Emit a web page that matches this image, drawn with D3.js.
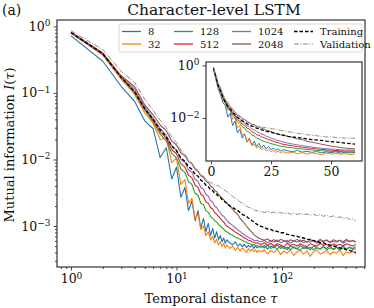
<!DOCTYPE html>
<html>
<head>
<meta charset="utf-8">
<script src="https://cdn.jsdelivr.net/npm/d3@7"></script>
<style>
  body { margin: 0; background: #fff; }
  text { font-family: "DejaVu Serif", serif; fill: #111; }
</style>
</head>
<body>
<svg id="chart" width="374" height="308"></svg>
<script>
// temporal distances where I(tau) is plotted
const taus = [1, 2, 3, 4, 5, 6, 7, 8, 9, 10, 11, 12, 13, 14, 15, 16, 17, 18, 19, 20,
  21, 22, 23, 24, 25, 26, 27, 28, 29, 30,
  32, 34, 36, 38, 40, 42, 44, 46, 48, 50, 52, 54, 56, 58, 60,
  64, 68, 73, 78, 84, 90, 97, 104, 112, 120, 129, 139, 149, 160, 172, 185, 199, 214, 230, 247,
  265, 285, 306, 329, 353, 380, 408, 438, 470, 500];

const sizes = ["8", "32", "128", "512", "1024", "2048"];

const mi8 = [0.72, 0.30, 0.125, 0.075, 0.038, 0.029, 0.0107, 0.015, 0.0051, 0.0077, 0.0027, 0.0038, 0.0017, 0.0024, 0.0012, 0.0017, 0.00092, 0.0013, 0.00082, 0.0011,
  0.00072, 0.00092, 0.00066, 0.00082, 0.00062, 0.00072, 0.00058, 0.00066, 0.00055, 0.00062,
  0.00056, 0.00052, 0.00058, 0.0005, 0.00054, 0.00049, 0.00053, 0.00047, 0.00051, 0.00048, 0.00052, 0.00046, 0.0005, 0.00047, 0.00049,
  0.00048, 0.00051, 0.00045, 0.0005, 0.00047, 0.00052, 0.00046, 0.00049, 0.00044, 0.0005, 0.00047, 0.00045, 0.00051, 0.00046, 0.00048,
  0.00044, 0.0005, 0.00047, 0.00045, 0.00049, 0.00046, 0.00051, 0.00044, 0.00048, 0.00046, 0.0005, 0.00045, 0.00048, 0.00046, 0.00049];

const mi32 = [0.79, 0.37, 0.16, 0.095, 0.05, 0.035, 0.02, 0.021, 0.009, 0.0105, 0.0042, 0.005, 0.0022, 0.0026, 0.0013, 0.0015, 0.00088, 0.001, 0.00072, 0.00082,
  0.00062, 0.0007, 0.00056, 0.00063, 0.00052, 0.00058, 0.00049, 0.00055, 0.00047, 0.00052,
  0.00046, 0.0005, 0.00043, 0.00048, 0.00042, 0.00047, 0.00044, 0.0004, 0.00046, 0.00042, 0.00045, 0.00041, 0.00044, 0.0004, 0.00043,
  0.00041, 0.00044, 0.00038, 0.00043, 0.0004, 0.00045, 0.00037, 0.00042, 0.00039, 0.00044, 0.00036, 0.00041, 0.00043, 0.00038, 0.00042,
  0.00035, 0.00041, 0.00044, 0.00038, 0.0004, 0.00043, 0.00037, 0.00041, 0.00039, 0.00044, 0.00036, 0.00041, 0.00039, 0.00042, 0.00038];

const mi128 = [0.80, 0.38, 0.17, 0.10, 0.055, 0.037, 0.024, 0.019, 0.0125, 0.0105, 0.0072, 0.0064, 0.0046, 0.0042, 0.0031, 0.0029, 0.0022, 0.0021, 0.0017, 0.0016,
  0.0014, 0.0013, 0.0012, 0.00115, 0.00105, 0.001, 0.00094, 0.0009, 0.00084, 0.00082,
  0.00076, 0.00073, 0.00068, 0.00066, 0.00063, 0.00061, 0.00058, 0.00057, 0.00055, 0.00054, 0.00052, 0.00053, 0.0005, 0.00051, 0.00049,
  0.0005, 0.00047, 0.00051, 0.00046, 0.00049, 0.00045, 0.0005, 0.00046, 0.00048, 0.00044, 0.00049, 0.00046, 0.00043, 0.00049, 0.00045,
  0.00048, 0.00044, 0.00047, 0.00045, 0.00049, 0.00044, 0.00047, 0.00045, 0.00048, 0.00043, 0.00047, 0.00045, 0.00048, 0.00044, 0.00046];

const mi512 = [0.80, 0.38, 0.17, 0.105, 0.058, 0.039, 0.026, 0.021, 0.014, 0.0122, 0.0086, 0.0077, 0.0058, 0.0053, 0.0041, 0.0038, 0.003, 0.0028, 0.0023, 0.0022,
  0.0019, 0.0018, 0.0016, 0.0015, 0.0014, 0.0013, 0.0012, 0.00115, 0.00106, 0.001,
  0.00093, 0.00087, 0.00081, 0.00077, 0.00073, 0.0007, 0.00066, 0.00064, 0.00061, 0.0006, 0.00058, 0.00057, 0.00055, 0.00056, 0.00054,
  0.00053, 0.00056, 0.00051, 0.00055, 0.0005, 0.00054, 0.00052, 0.00049, 0.00055, 0.00051, 0.00053, 0.0005, 0.00054, 0.00051, 0.00049,
  0.00054, 0.00052, 0.0005, 0.00055, 0.00051, 0.00053, 0.00049, 0.00054, 0.00051, 0.00053, 0.0005, 0.00054, 0.00052, 0.0005, 0.00053];

const mi1024 = [0.81, 0.39, 0.175, 0.115, 0.062, 0.042, 0.029, 0.023, 0.016, 0.0138, 0.01, 0.0091, 0.007, 0.0064, 0.005, 0.0047, 0.0038, 0.0036, 0.003, 0.0028,
  0.0024, 0.0023, 0.002, 0.0019, 0.0017, 0.0016, 0.00145, 0.0014, 0.0013, 0.00122,
  0.0011, 0.00102, 0.00095, 0.00088, 0.00083, 0.00078, 0.00074, 0.0007, 0.00068, 0.00065, 0.00064, 0.00061, 0.0006, 0.00061, 0.00059,
  0.00058, 0.00061, 0.00056, 0.0006, 0.00057, 0.00062, 0.00056, 0.00059, 0.00061, 0.00055, 0.0006, 0.00057, 0.00062, 0.00056, 0.00059,
  0.00057, 0.00061, 0.00055, 0.0006, 0.00058, 0.00062, 0.00056, 0.00059, 0.00057, 0.00061, 0.00055, 0.0006, 0.00058, 0.00061, 0.00057];

const mi2048 = [0.82, 0.40, 0.18, 0.125, 0.066, 0.047, 0.033, 0.027, 0.019, 0.0165, 0.0125, 0.0115, 0.0093, 0.0086, 0.0072, 0.0066, 0.0057, 0.0054, 0.0047, 0.0045,
  0.004, 0.0038, 0.0034, 0.0033, 0.003, 0.0028, 0.0026, 0.0025, 0.0023, 0.0022,
  0.002, 0.0018, 0.0016, 0.0015, 0.0013, 0.0012, 0.0011, 0.001, 0.00092, 0.00085, 0.0008, 0.00075, 0.00071, 0.00069, 0.00066,
  0.00063, 0.00061, 0.00064, 0.00059, 0.00062, 0.00058, 0.00063, 0.0006, 0.00057, 0.00062, 0.00059, 0.00063, 0.00058, 0.00061, 0.00057,
  0.00062, 0.0006, 0.00058, 0.00063, 0.00059, 0.00061, 0.00057, 0.00062, 0.00059, 0.00061, 0.00058, 0.00063, 0.00059, 0.0006, 0.00058];

const training = [0.81, 0.39, 0.17, 0.105, 0.058, 0.04, 0.028, 0.022, 0.016, 0.0135, 0.0105, 0.0094, 0.0078, 0.0071, 0.006, 0.0056, 0.0049, 0.0046, 0.0041, 0.0039,
  0.0035, 0.0034, 0.0031, 0.003, 0.0028, 0.0027, 0.0025, 0.0024, 0.0023, 0.0022,
  0.002, 0.0019, 0.0018, 0.0017, 0.0016, 0.0015, 0.00145, 0.0014, 0.00132, 0.00127, 0.0012, 0.00116, 0.0011, 0.00106, 0.00102,
  0.00098, 0.00095, 0.0009, 0.00089, 0.00084, 0.00083, 0.00079, 0.00079, 0.00075, 0.00074, 0.00071, 0.0007, 0.00067, 0.00066, 0.00063,
  0.00063, 0.0006, 0.00059, 0.00056, 0.00056, 0.00053, 0.00052, 0.0005, 0.00049, 0.00047, 0.00046, 0.00044, 0.00043, 0.00041, 0.0004];

const validation = [0.86, 0.45, 0.21, 0.145, 0.08, 0.055, 0.039, 0.03, 0.022, 0.018, 0.0138, 0.012, 0.0098, 0.0088, 0.0075, 0.0068, 0.006, 0.0056, 0.005, 0.0048,
  0.0045, 0.0044, 0.0042, 0.0041, 0.004, 0.0038, 0.0037, 0.0035, 0.0034, 0.0033,
  0.003, 0.0028, 0.0026, 0.0025, 0.0023, 0.0022, 0.0021, 0.002, 0.0019, 0.0019, 0.0018, 0.00178, 0.0017, 0.0017, 0.00168,
  0.00165, 0.0016, 0.00166, 0.00158, 0.00162, 0.00155, 0.0016, 0.00153, 0.00158, 0.0015, 0.00156, 0.00149, 0.00154, 0.00147, 0.00152,
  0.00145, 0.0015, 0.00143, 0.00148, 0.0014, 0.00145, 0.00137, 0.00142, 0.00133, 0.00138, 0.0013, 0.00134, 0.00125, 0.00128, 0.0012];

const mainTicksX = [1, 10, 100];
const mainTicksY = [1, 0.1, 0.01, 0.001];
const insetTicksX = [0, 25, 50];
const insetTicksY = [1, 0.01];

const series = [
  { label: sizes[0], values: mi8, color: "#1f77b4", dash: null, width: 1.1 },
  { label: sizes[1], values: mi32, color: "#ff7f0e", dash: null, width: 1.1 },
  { label: sizes[2], values: mi128, color: "#2ca02c", dash: null, width: 1.1 },
  { label: sizes[3], values: mi512, color: "#d62728", dash: null, width: 1.1 },
  { label: sizes[4], values: mi1024, color: "#9467bd", dash: null, width: 1.1 },
  { label: sizes[5], values: mi2048, color: "#8c564b", dash: null, width: 1.1 },
  { label: "Training", values: training, color: "#000", dash: "3.5,2", width: 1.4 },
  { label: "Validation", values: validation, color: "#888", dash: "5,1.5,1,1.5", width: 1 }
];

const svg = d3.select("#chart");
const frame = "#333";

// ---------- main axes ----------
const x = d3.scaleLog().domain([0.736, 612]).range([57, 365]);
const y = d3.scaleLog().domain([2.42e-4, 1.25]).range([267, 20]);

function supLabel(sel, d, anchor) {
  const e = Math.round(Math.log10(d));
  sel.text(null).attr("text-anchor", anchor);
  sel.append("tspan").text("10");
  sel.append("tspan").attr("dy", "-0.5em").attr("font-size", "0.72em")
    .text(e < 0 ? "\u2212" + (-e) : e);
}

svg.append("clipPath").attr("id", "clipMain").append("rect")
  .attr("x", 57).attr("y", 20).attr("width", 308).attr("height", 247);

const mainLines = svg.append("g").attr("clip-path", "url(#clipMain)");
series.forEach(s => {
  const line = d3.line().x((d, i) => x(taus[i])).y(d => y(d));
  mainLines.append("path")
    .attr("d", line(s.values))
    .attr("fill", "none")
    .attr("stroke", s.color)
    .attr("stroke-width", s.width)
    .attr("stroke-dasharray", s.dash)
    .attr("stroke-linejoin", "round");
});

// minor ticks
const minorX = [];
[0.1, 1, 10, 100].forEach(b => { for (let k = 2; k <= 9; k++) minorX.push(b * k); });
const minorY = [];
[0.0001, 0.001, 0.01, 0.1].forEach(b => { for (let k = 2; k <= 9; k++) minorY.push(b * k); });

const xAxisMinor = svg.append("g").attr("transform", "translate(0,267)")
  .call(d3.axisBottom(x).tickValues(minorX.filter(v => v > 0.736 && v < 612)).tickSize(2).tickFormat(""));
const yAxisMinor = svg.append("g").attr("transform", "translate(57,0)")
  .call(d3.axisLeft(y).tickValues(minorY.filter(v => v > 2.42e-4 && v < 1.25)).tickSize(2).tickFormat(""));

const xAxis = svg.append("g").attr("transform", "translate(0,267)")
  .call(d3.axisBottom(x).tickValues(mainTicksX).tickSize(3.5).tickPadding(4));
xAxis.selectAll(".tick text").each(function (d) { supLabel(d3.select(this), d, "middle"); });

const yAxis = svg.append("g").attr("transform", "translate(57,0)")
  .call(d3.axisLeft(y).tickValues(mainTicksY).tickSize(3.5).tickPadding(3));
yAxis.selectAll(".tick text").each(function (d) { supLabel(d3.select(this), d, "end"); });

[xAxis, yAxis, xAxisMinor, yAxisMinor].forEach(g => {
  g.select(".domain").remove();
  g.selectAll(".tick line").attr("stroke", frame).attr("stroke-width", 0.9);
  g.selectAll(".tick text").style("font-family", "DejaVu Serif").style("font-size", "12.5px").attr("fill", "#111");
});

svg.append("rect").attr("x", 57).attr("y", 20).attr("width", 308).attr("height", 247)
  .attr("fill", "none").attr("stroke", frame).attr("stroke-width", 1.2);

// ---------- legend ----------
const legend = svg.append("g");
legend.append("rect").attr("x", 119).attr("y", 24).attr("width", 243).attr("height", 28)
  .attr("rx", 2).attr("fill", "#fff").attr("fill-opacity", 0.9).attr("stroke", "#ccc").attr("stroke-width", 0.8);
const colX = [122, 174, 232, 294];
const rowY = [31.5, 44];
const legendOrder = [0, 1, 2, 3, 4, 5, 6, 7];
legendOrder.forEach((k, i) => {
  const s = series[k];
  const cx = colX[Math.floor(i / 2)];
  const cy = rowY[i % 2];
  legend.append("line").attr("x1", cx).attr("x2", cx + 19).attr("y1", cy).attr("y2", cy)
    .attr("stroke", s.color).attr("stroke-width", s.width + 0.2).attr("stroke-dasharray", s.dash);
  legend.append("text").attr("x", cx + 26).attr("y", cy + 3.5).style("font-size", "10px").text(s.label);
});

// ---------- inset ----------
const xi = d3.scaleLinear().domain([-2.08, 62.9]).range([206, 362]);
const yi = d3.scaleLog().domain([2.3e-4, 1.35]).range([161, 62]);

svg.append("rect").attr("x", 206).attr("y", 62).attr("width", 156).attr("height", 99).attr("fill", "#fff");
svg.append("clipPath").attr("id", "clipInset").append("rect")
  .attr("x", 206).attr("y", 62).attr("width", 156).attr("height", 99);
const insetLines = svg.append("g").attr("clip-path", "url(#clipInset)");
const nInset = taus.filter(t => t <= 60).length;
series.forEach(s => {
  const line = d3.line().x((d, i) => xi(taus[i])).y(d => yi(d));
  insetLines.append("path")
    .attr("d", line(s.values.slice(0, nInset)))
    .attr("fill", "none")
    .attr("stroke", s.color)
    .attr("stroke-width", s.width * 0.9)
    .attr("stroke-dasharray", s.dash)
    .attr("stroke-linejoin", "round");
});

const xiAxis = svg.append("g").attr("transform", "translate(0,161)")
  .call(d3.axisBottom(xi).tickValues(insetTicksX).tickSize(3.5).tickPadding(3).tickFormat(d3.format("d")));
const yiAxis = svg.append("g").attr("transform", "translate(206,0)")
  .call(d3.axisLeft(yi).tickValues(insetTicksY).tickSize(3.5).tickPadding(3));
yiAxis.selectAll(".tick text").each(function (d) { supLabel(d3.select(this), d, "end"); });
[xiAxis, yiAxis].forEach(g => {
  g.select(".domain").remove();
  g.selectAll(".tick line").attr("stroke", frame).attr("stroke-width", 0.9);
  g.selectAll(".tick text").style("font-family", "DejaVu Serif").style("font-size", "12.5px").attr("fill", "#111");
});
svg.append("rect").attr("x", 206).attr("y", 62).attr("width", 156).attr("height", 99)
  .attr("fill", "none").attr("stroke", frame).attr("stroke-width", 1.2);

// ---------- titles ----------
svg.append("text").attr("x", 214).attr("y", 15).attr("text-anchor", "middle")
  .style("font-size", "15.5px").text("Character-level LSTM");
svg.append("text").attr("x", 2).attr("y", 15).style("font-size", "14px").text("(a)");

const xl = svg.append("text").attr("x", 211).attr("y", 303).attr("text-anchor", "middle").style("font-size", "13px");
xl.append("tspan").text("Temporal distance ");
xl.append("tspan").style("font-style", "italic").text("\u03c4");

const yl = svg.append("text").attr("transform", "translate(14,145) rotate(-90)")
  .attr("text-anchor", "middle").style("font-size", "13px");
yl.append("tspan").text("Mutual information ");
yl.append("tspan").style("font-style", "italic").text("I");
yl.append("tspan").text("(");
yl.append("tspan").style("font-style", "italic").text("\u03c4");
yl.append("tspan").text(")");
</script>
</body>
</html>
